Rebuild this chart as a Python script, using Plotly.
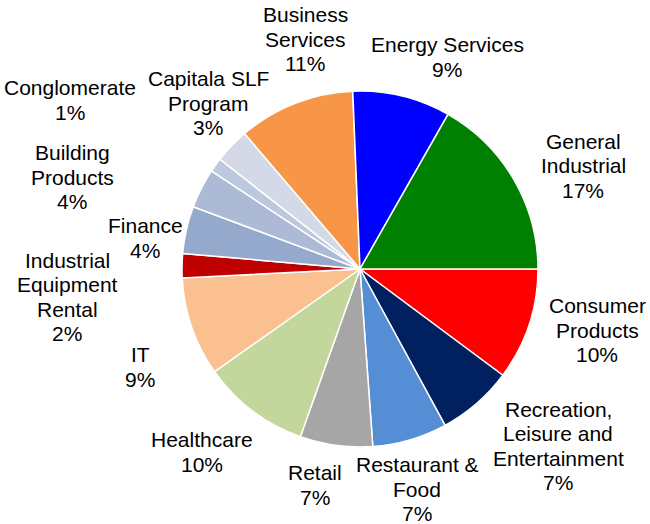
import plotly.graph_objects as go

W, H = 650, 524

# Data (clockwise from 3 o'clock)
categories = [
    "Consumer Products", "Recreation, Leisure and Entertainment",
    "Restaurant & Food", "Retail", "Healthcare", "IT",
    "Industrial Equipment Rental", "Finance", "Building Products",
    "Conglomerate", "Capitala SLF Program", "Business Services",
    "Energy Services", "General Industrial",
]
shares = [10.2, 6.9, 6.8, 6.6, 9.8, 9.0, 2.2, 4.3, 3.6, 1.3, 3.2, 10.6, 8.9, 16.8]
pct_labels = [10, 7, 7, 7, 10, 9, 2, 4, 4, 1, 3, 11, 9, 17]
label_lines = [
    ["Consumer", "Products"], ["Recreation,", "Leisure and", "Entertainment"],
    ["Restaurant &", "Food"], ["Retail"], ["Healthcare"], ["IT"],
    ["Industrial", "Equipment", "Rental"], ["Finance"], ["Building", "Products"],
    ["Conglomerate"], ["Capitala SLF", "Program"], ["Business", "Services"],
    ["Energy Services"], ["General", "Industrial"],
]

# Styles / layout
colors = [
    "#FF0000", "#002060", "#558ED5", "#A6A6A6", "#C3D69B", "#FAC090", "#C00000",
    "#95A9CD", "#ADBAD6", "#BCC8DE", "#D3D9E7", "#F79646", "#0000FF", "#008000",
]
label_pos_px = [
    (597, 330), (558, 446), (417, 489), (315, 485), (202, 452), (140, 367),
    (67, 297), (145, 238), (72, 177), (70, 100), (208, 103), (305, 39),
    (447, 57), (583, 166),
]
LINE_H = 24.3
FONT = dict(family="Arial, Liberation Sans, sans-serif", size=21, color="#000000")

cx, cy, r = 360, 269, 178

fig = go.Figure(go.Pie(
    labels=categories,
    values=shares,
    sort=False,
    direction="clockwise",
    rotation=90,
    textinfo="none",
    hoverinfo="label+percent",
    marker=dict(colors=colors, line=dict(color="white", width=1.5)),
    domain=dict(x=[(cx - r) / W, (cx + r) / W], y=[1 - (cy + r) / H, 1 - (cy - r) / H]),
    showlegend=False,
))

annotations = []
for lines, pct, (px, py) in zip(label_lines, pct_labels, label_pos_px):
    all_lines = lines + [f"{pct}%"]
    n = len(all_lines)
    for i, line in enumerate(all_lines):
        ly = py + (i - (n - 1) / 2) * LINE_H
        annotations.append(dict(
            text=line, x=px / W, y=1 - ly / H, xref="paper", yref="paper",
            xanchor="center", yanchor="middle", showarrow=False, font=FONT,
        ))

fig.update_layout(
    width=W, height=H,
    margin=dict(l=0, r=0, t=0, b=0),
    paper_bgcolor="white", plot_bgcolor="white",
    annotations=annotations,
)

fig.write_html("out.html", config={"displayModeBar": False},
               post_script="document.body.style.margin='0';")
